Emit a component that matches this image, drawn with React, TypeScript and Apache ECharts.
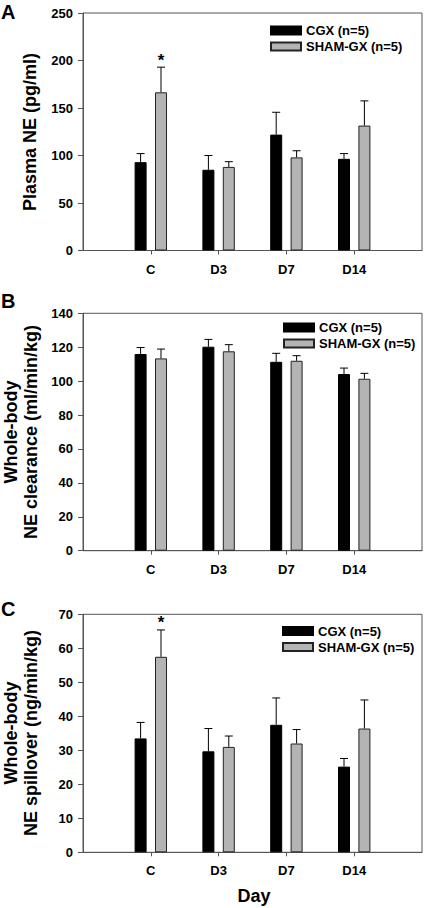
import React, { useEffect, useRef } from "react";
import * as echarts from "echarts";

// ---- data ----
const categories = ["C", "D3", "D7", "D14"];
const seriesNames = ["CGX (n=5)", "SHAM-GX (n=5)"];

// Panel A: Plasma NE (pg/ml)
const plasmaCGX = [93, 85, 122, 96.5];
const plasmaCGXSem = [9, 15, 23.5, 5.5];
const plasmaSHAM = [166.5, 88, 98, 131.5];
const plasmaSHAMSem = [26.5, 5.5, 7, 26];
const plasmaSig = ["*", "", "", ""];

// Panel B: Whole-body NE clearance (ml/min/kg)
const clearCGX = [116, 120.3, 111.4, 104.2];
const clearCGXSem = [3.8, 4.3, 5, 3.5];
const clearSHAM = [113.4, 117.6, 112, 101.4];
const clearSHAMSem = [5.5, 3.9, 3, 3.2];

// Panel C: Whole-body NE spillover (ng/min/kg)
const spillCGX = [33.5, 29.7, 37.5, 25.2];
const spillCGXSem = [4.7, 6.7, 7.9, 2.4];
const spillSHAM = [57.5, 31, 32, 36.4];
const spillSHAMSem = [7.9, 3.2, 4.1, 8.4];
const spillSig = ["*", "", "", ""];

// axis ranges / ticks
const yMaxA = 250, yIntA = 50;
const yMaxB = 140, yIntB = 20;
const yMaxC = 70, yIntC = 10;

// ---- style constants ----
const FONT = "'Liberation Sans', Arial, sans-serif";
const AXIS_COLOR = "#555";
const BLACK = "#000000";
const GRAY = "#b4b4b4";
const BAR_W = 12;
const BAR_GAP_PX = 8.4;
const HALF_OFFSET = BAR_W / 2 + BAR_GAP_PX / 2;

const axisCats = ["", ...categories, ""];

function padded(vals: number[]) {
  return ["-", ...vals, "-"];
}

function makePanel(
  idx: number,
  yMax: number,
  yInt: number,
  cgx: number[],
  cgxSem: number[],
  sham: number[],
  shamSem: number[],
  shamSig: string[] | null,
  legendLeft: number,
  legendTop: number
) {
  const grid = [
    { left: 83, top: 13, width: 340, height: 237.5 },
    { left: 83, top: 313.3, width: 340, height: 237.4 },
    { left: 83, top: 614.3, width: 340, height: 238 },
  ][idx];

  const xAxis = {
    type: "category",
    gridIndex: idx,
    data: axisCats,
    boundaryGap: false,
    axisLine: { show: true, lineStyle: { color: AXIS_COLOR, width: 1 } },
    axisTick: {
      show: true,
      length: 4,
      interval: (_i: number, v: string) => v !== "",
      lineStyle: { color: AXIS_COLOR },
    },
    axisLabel: {
      interval: 0,
      color: "#000",
      fontFamily: FONT,
      fontWeight: "bold",
      fontSize: 13,
      margin: 12,
    },
    splitLine: { show: false },
  };

  const yAxis = {
    type: "value",
    gridIndex: idx,
    min: 0,
    max: yMax,
    interval: yInt,
    axisLine: { show: true, lineStyle: { color: AXIS_COLOR, width: 1 } },
    axisTick: { show: true, length: 5, lineStyle: { color: AXIS_COLOR } },
    axisLabel: {
      color: "#000",
      fontFamily: FONT,
      fontWeight: "bold",
      fontSize: 13,
      margin: 10,
    },
    splitLine: { show: false },
  };

  const barCommon = {
    type: "bar",
    xAxisIndex: idx,
    yAxisIndex: idx,
    barWidth: BAR_W,
    barGap: `${(BAR_GAP_PX / BAR_W) * 100}%`,
  };

  const errSeries = (
    vals: number[],
    sems: number[],
    offset: number,
    sig: string[] | null
  ) => ({
    type: "custom",
    xAxisIndex: idx,
    yAxisIndex: idx,
    z: 5,
    silent: true,
    data: vals.map((v, i) => [i + 1, v, v + sems[i], sig ? sig[i] : ""]),
    encode: { x: 0, y: [1, 2] },
    renderItem: (_params: any, api: any) => {
      const xi = api.value(0);
      const p0 = api.coord([xi, api.value(1)]);
      const p1 = api.coord([xi, api.value(2)]);
      const cx = p0[0] + offset;
      const children: any[] = [
        {
          type: "line",
          shape: { x1: cx, y1: p0[1], x2: cx, y2: p1[1] },
          style: { stroke: "#000", lineWidth: 1 },
        },
        {
          type: "line",
          shape: { x1: cx - 4, y1: p1[1], x2: cx + 4, y2: p1[1] },
          style: { stroke: "#000", lineWidth: 1 },
        },
      ];
      const s = sig ? sig[api.value(0) - 1] : "";
      if (s) {
        children.push({
          type: "text",
          x: cx,
          y: p1[1] - 7,
          style: {
            text: s,
            align: "center",
            verticalAlign: "middle",
            fill: "#000",
            font: `bold 17px ${FONT}`,
          },
        });
      }
      return { type: "group", children };
    },
  });

  const series = [
    {
      ...barCommon,
      name: seriesNames[0],
      data: padded(cgx),
      itemStyle: { color: BLACK, borderColor: "#000", borderWidth: 1 },
    },
    {
      ...barCommon,
      name: seriesNames[1],
      data: padded(sham),
      itemStyle: { color: GRAY, borderColor: "#222", borderWidth: 1 },
    },
    errSeries(cgx, cgxSem, -HALF_OFFSET, null),
    errSeries(sham, shamSem, HALF_OFFSET, shamSig),
  ];

  const legend = {
    data: seriesNames,
    orient: "vertical",
    left: legendLeft,
    top: legendTop,
    padding: 0,
    itemWidth: 30,
    itemHeight: 8,
    itemGap: 3,
    icon: "rect",
    selectedMode: false,
    textStyle: {
      color: "#000",
      fontFamily: FONT,
      fontWeight: "bold",
      fontSize: 13,
    },
  };

  return {
    grid: {
      ...grid,
      show: true,
      borderColor: AXIS_COLOR,
      borderWidth: 1,
      backgroundColor: "transparent",
    },
    xAxis,
    yAxis,
    series,
    legend,
  };
}

export default function App() {
  const ref = useRef<HTMLDivElement>(null);

  useEffect(() => {
    if (!ref.current) return;
    const chart = echarts.init(ref.current, undefined, { renderer: "svg" });

    const pA = makePanel(0, yMaxA, yIntA, plasmaCGX, plasmaCGXSem, plasmaSHAM, plasmaSHAMSem, plasmaSig, 270, 24);
    const pB = makePanel(1, yMaxB, yIntB, clearCGX, clearCGXSem, clearSHAM, clearSHAMSem, null, 283, 321);
    const pC = makePanel(2, yMaxC, yIntC, spillCGX, spillCGXSem, spillSHAM, spillSHAMSem, spillSig, 282, 624.5);

    const titleStyle = (text: string) => ({
      text,
      align: "center",
      verticalAlign: "middle",
      fill: "#000",
      font: `bold 18px ${FONT}`,
      lineHeight: 20,
    });

    const option: any = {
      animation: false,
      backgroundColor: "#fff",
      grid: [pA.grid, pB.grid, pC.grid],
      xAxis: [pA.xAxis, pB.xAxis, pC.xAxis],
      yAxis: [pA.yAxis, pB.yAxis, pC.yAxis],
      legend: [pA.legend, pB.legend, pC.legend],
      series: [...pA.series, ...pB.series, ...pC.series],
      graphic: [
        { type: "text", x: 1, y: 2, style: { text: "A", fill: "#000", font: `bold 20px ${FONT}` } },
        { type: "text", x: 1, y: 291, style: { text: "B", fill: "#000", font: `bold 20px ${FONT}` } },
        { type: "text", x: 1, y: 599, style: { text: "C", fill: "#000", font: `bold 20px ${FONT}` } },
        { type: "text", x: 30, y: 132, rotation: Math.PI / 2, style: titleStyle("Plasma NE (pg/ml)") },
        { type: "text", x: 20.5, y: 432, rotation: Math.PI / 2, style: titleStyle("Whole-body\nNE clearance (ml/min/kg)") },
        { type: "text", x: 20.5, y: 733, rotation: Math.PI / 2, style: titleStyle("Whole-body\nNE spillover (ng/min/kg)") },
        { type: "text", x: 254, y: 896, style: { text: "Day", align: "center", verticalAlign: "middle", fill: "#000", font: `bold 18px ${FONT}` } },
      ],
    };

    chart.setOption(option);
    return () => chart.dispose();
  }, []);

  return (
    <div
      ref={ref}
      style={{ position: "absolute", left: 0, top: 0, width: 425, height: 908 }}
    />
  );
}
